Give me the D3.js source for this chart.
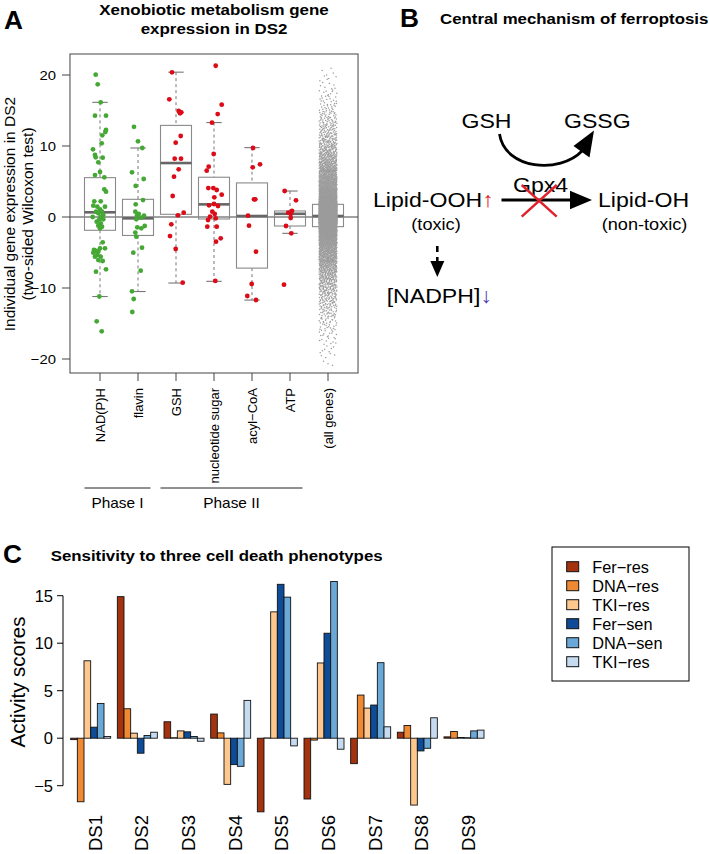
<!DOCTYPE html>
<html><head><meta charset="utf-8">
<script src="https://cdn.jsdelivr.net/npm/d3@7"></script>
<style>body{margin:0;background:#fff} svg{display:block} text{font-family:"Liberation Sans",Arial,Helvetica,sans-serif;fill:#000}</style>
</head><body><svg id="fig" width="709" height="854"></svg>
<script>
// ---------------- DATA ----------------
// Panel A
const catLabels = ["NAD(P)H","flavin","GSH","nucleotide sugar","acyl\u2212CoA","ATP","(all genes)"];
const catColors = ["#45a834","#45a834","#db0b17","#db0b17","#db0b17","#db0b17","#9a9a9a"];
// box stats: [lower whisker, Q1, median, Q3, upper whisker]
const boxStats = [
  [-11.2,-1.87,0.66,5.54,16.15],
  [-10.5,-2.6,-0.19,2.49,9.72],
  [-9.3,0.38,7.6,12.9,20.4],
  [-9.06,-0.28,1.78,5.6,13.3],
  [-11.7,-7.2,0.14,4.8,9.77],
  [-2.3,-1.27,0.45,0.85,3.66],
  [-6.2,-1.36,0.14,1.78,6.5]
];
// individual genes: values and horizontal jitter (in 1/38 of category spacing)
const nadphVals = [20.04,18.69,16.15,14.27,14.27,12.25,11.97,11.5,10.38,9.53,8.73,8.4,8.36,7.7,6.34,5.9,5.59,3.9,3.57,
  2.21,2.21,1.6,1.46,1.46,1.08,0.75,0.75,0.52,0.28,0.05,0.0,-0.33,-0.33,-0.66,-0.89,-1.36,-1.6,-1.22,
  -3.57,-4.65,-4.79,-4.88,-5.02,-4.41,-5.35,-4.41,-5.59,-5.59,-6.06,-6.2,-7.37,-7.7,-11.2,-14.7,-16.1];
const nadphJit = [-4.3,-2.3,0.7,-5,6,6,5.3,2.3,1.7,-7,-5,-4.3,2.7,-1.7,0,-5,4.3,4.3,6,
  -5.7,0.7,-6.7,-2.7,5,0,-4,2,-1.7,3.3,0.7,-7.3,-0.7,3.3,-3.3,0.7,2,0,-1.7,
  2.7,-6,-4,-1.7,-6.7,0,-2.7,5,-5,0.7,-1.7,2.7,6,-4,-0.7,-3.3,1.7];
const flavinVals = [12.7,10.66,9.72,6.29,5.35,4.37,2.39,1.78,0.75,0.42,0.19,0.19,-0.09,-0.33,-1.46,-1.6,-1.27,-2.2,-2.77,-4.32,-5.02,-7.56,-10.47,-11.55,-13.38];
const flavinJit = [-4,0,4.3,-6,5.7,-2.3,5,-2.3,-2.7,0.7,-1,6,3.3,-1.7,-0.7,3.3,6.7,-2.7,-1.7,4,-4.7,2.7,-6,-4.3,-5.7];
const gshVals = [20.38,16.58,14.93,14.74,14.6,11.41,10.47,8.22,8.22,6.71,5.68,2.96,0.23,0.61,-1.03,-2.68,-4.51,-9.25];
const gshJit = [-4,-6.7,2.7,5.3,4,4.7,-0.3,-1.3,5,2.7,-2,-3.3,2,7.7,-4.7,-6,-0.3,6.7];
const nucVals = [21.3,15.82,14.5,13.29,8.87,7.09,6.52,4.08,4.08,3.8,3.14,2.77,1.65,1.83,1.55,0.75,0.42,0.05,-0.19,-0.42,-1.36,-1.36,-3.0,-3.47,-9.01];
const nucJit = [1.7,7.7,3.7,-2,-0.3,-5.3,-7.3,-5.7,-0.7,2.7,7.7,0.3,-5,0,4,-1.7,0.7,-4,1.7,-6,-6.7,2.7,6.7,2,1.3];
const acylVals = [9.72,7.0,7.42,2.49,2.49,0.19,-1.22,-4.88,-9.44,-11.13,-11.69];
const acylJit = [1,0.7,8,2,3.3,-4,-3,4,-0.3,-4.7,4];
const atpVals = [3.66,2.35,0.85,0.61,0.42,-0.14,-1.27,-2.3,-9.53];
const atpJit = [-5.3,6,2,-1.7,0.7,0.7,-4,1.3,-6];
// (all genes): number of genes per 1-unit expression bin, from -21 to +21
const allBinStart = -21;
const allBinCounts = [3,5,6,9,12,16,21,27,34,42,52,63,76,92,112,136,165,205,270,500,1000,
  900,800,330,240,190,155,128,105,86,70,57,46,37,30,24,18,14,10,7,5,4];
const yTicksA = [-20,-10,0,10,20];
const phaseGroups = [{name:"Phase I", from:1, to:2},{name:"Phase II", from:3, to:6}];

// Panel C
const dsLabels = ["DS1","DS2","DS3","DS4","DS5","DS6","DS7","DS8","DS9"];
const seriesNames = ["Fer\u2212res","DNA\u2212res","TKI\u2212res","Fer\u2212sen","DNA\u2212sen","TKI\u2212res"];
const seriesColors = ["#a3320f","#f08a32","#fdc78e","#0e4c97","#6aa8d8","#c6dbef"];
const ferRes = [-0.15,14.9,1.73,2.54,-7.75,-6.4,-2.68,0.63,0.14];
const dnaRes = [-6.69,3.1,0.05,0.56,0.03,-0.2,4.54,1.34,0.7];
const tkiRes = [8.15,0.53,0.77,-4.86,13.3,7.92,3.17,-7.04,0.07];
const ferSen = [1.16,-1.58,0.67,-2.78,16.2,11.05,3.49,-1.34,0.05];
const dnaSen = [3.66,0.28,0.18,-2.96,14.85,16.5,7.95,-1.06,0.77];
const tkiSen = [0.18,0.63,-0.32,3.98,-0.81,-1.16,1.2,2.15,0.85];
const yTicksC = [-5,0,5,10,15];

// ---------------- DRAW ----------------
const svg = d3.select("#fig");
const SX = 1.1; // horizontal stretch of the original figure's lettering
function txt(g, x, y, s, size, o = {}) {
  const sx = o.sx === undefined ? SX : o.sx;
  let tr = `translate(${x},${y})`;
  if (o.rot) tr += ` rotate(${o.rot})`;
  if (sx !== 1) tr += ` scale(${sx},1)`;
  const t = g.append("text").attr("transform", tr).attr("font-size", size)
    .attr("text-anchor", o.anchor || "start").text(s);
  if (o.bold) t.attr("font-weight", "bold");
  if (o.fill) t.style("fill", o.fill);
  if (o.db) t.attr("dominant-baseline", o.db);
  return t;
}

// ===== Panel A =====
const A = svg.append("g");
const xA = d3.scaleLinear().domain([1, 7]).range([100, 328]);
const yA = d3.scaleLinear().domain([-20, 20]).range([359, 75]);
const boxL = xA(0.21), boxR = xA(7.79), boxT = 54, boxB = 373;

txt(A, 4, 29, "A", 25, {bold: true, sx: 1.05});
txt(A, (boxL + boxR) / 2, 15, "Xenobiotic metabolism gene", 15.4, {bold: true, anchor: "middle"});
txt(A, (boxL + boxR) / 2, 34, "expression in DS2", 15.4, {bold: true, anchor: "middle"});

// zero line
A.append("line").attr("x1", boxL).attr("x2", boxR).attr("y1", yA(0)).attr("y2", yA(0))
  .attr("stroke", "#444").attr("stroke-width", 1.1);

// boxes
const halfW = 15.5, capW = 7.7;
boxStats.forEach((s, i) => {
  const cx = xA(i + 1);
  const g = A.append("g");
  g.append("line").attr("x1", cx).attr("x2", cx).attr("y1", yA(s[4])).attr("y2", yA(s[3]))
    .attr("stroke", "#777").attr("stroke-dasharray", "3,3");
  g.append("line").attr("x1", cx).attr("x2", cx).attr("y1", yA(s[1])).attr("y2", yA(s[0]))
    .attr("stroke", "#777").attr("stroke-dasharray", "3,3");
  [s[0], s[4]].forEach(v => g.append("line").attr("x1", cx - capW).attr("x2", cx + capW)
    .attr("y1", yA(v)).attr("y2", yA(v)).attr("stroke", "#777").attr("stroke-width", 1.1));
  g.append("rect").attr("x", cx - halfW).attr("width", 2 * halfW).attr("y", yA(s[3]))
    .attr("height", yA(s[1]) - yA(s[3])).attr("fill", "none").attr("stroke", "#8a8a8a").attr("stroke-width", 1.1);
  g.append("line").attr("x1", cx - halfW).attr("x2", cx + halfW).attr("y1", yA(s[2])).attr("y2", yA(s[2]))
    .attr("stroke", "#666").attr("stroke-width", 2.6);
});

// all-genes cloud (deterministic low-discrepancy placement inside each read bin)
function halton(i, b) { let f = 1, r = 0; while (i > 0) { f /= b; r += f * (i % b); i = Math.floor(i / b); } return r; }
const cloud = [];
let k = 1;
allBinCounts.forEach((n, bi) => {
  for (let j = 0; j < n; j++, k++) cloud.push([allBinStart + bi + halton(k, 3), halton(k, 2) * 2 - 1]);
});
A.append("g").selectAll("circle").data(cloud).join("circle")
  .attr("cx", d => xA(7 + d[1] * 0.235)).attr("cy", d => yA(d[0])).attr("r", 0.75).attr("fill", "#9c9c9c");

// gene points
const ptsSets = [[nadphVals, nadphJit],[flavinVals, flavinJit],[gshVals, gshJit],[nucVals, nucJit],[acylVals, acylJit],[atpVals, atpJit]];
ptsSets.forEach(([vals, jit], i) => {
  A.append("g").selectAll("circle").data(vals).join("circle")
    .attr("cx", (d, j) => xA(i + 1 + jit[j] / 38)).attr("cy", d => yA(d)).attr("r", 2.4)
    .attr("fill", catColors[i]);
});

// frame
A.append("rect").attr("x", boxL).attr("y", boxT).attr("width", boxR - boxL).attr("height", boxB - boxT)
  .attr("fill", "none").attr("stroke", "#444").attr("stroke-width", 1);
// y axis
yTicksA.forEach(v => {
  A.append("line").attr("x1", boxL - 8).attr("x2", boxL).attr("y1", yA(v)).attr("y2", yA(v)).attr("stroke", "#444");
  txt(A, boxL - 14, yA(v) + 5, v < 0 ? "\u2212" + Math.abs(v) : String(v), 13.5, {anchor: "end"});
});
// x axis
catLabels.forEach((c, i) => {
  A.append("line").attr("x1", xA(i + 1)).attr("x2", xA(i + 1)).attr("y1", boxB).attr("y2", boxB + 8).attr("stroke", "#444");
  txt(A, xA(i + 1) + 4.7, 388, c, 13, {rot: -90, anchor: "end", sx: 1});
});
txt(A, 15, 214, "Individual gene expression in DS2", 15.5, {rot: -90, anchor: "middle", sx: 1});
txt(A, 33, 214, "(two-sided Wilcoxon test)", 15.5, {rot: -90, anchor: "middle", sx: 1});
phaseGroups.forEach(p => {
  const x1 = xA(p.from) - halfW, x2 = xA(p.to) + halfW - 3;
  A.append("line").attr("x1", x1).attr("x2", x2).attr("y1", 488).attr("y2", 488).attr("stroke", "#222");
  txt(A, (x1 + x2) / 2, 508, p.name, 14, {anchor: "middle"});
});

// ===== Panel B =====
const B = svg.append("g");
txt(B, 400, 27, "B", 25, {bold: true, sx: 1.05});
txt(B, 440, 24, "Central mechanism of ferroptosis", 15.3, {bold: true});
const fB = 21;
txt(B, 461.5, 127.7, "GSH", fB);
txt(B, 564, 127.7, "GSSG", fB);
B.append("path").attr("d", "M 499.5 134 C 505 170, 560 174, 582 151").attr("fill", "none")
  .attr("stroke", "#000").attr("stroke-width", 2.8);
B.append("path").attr("d", "M 594 130.5 L 573.5 146 L 589.5 157.5 Z").attr("fill", "#000");
const lt = txt(B, 373, 206.7, "Lipid-OOH", fB);
lt.append("tspan").style("fill", "#e0202a").text("\u2191");
txt(B, 436, 230, "(toxic)", 16.5, {anchor: "middle"});
txt(B, 513, 191.7, "Gpx4", fB);
B.append("line").attr("x1", 501.5).attr("x2", 574).attr("y1", 200).attr("y2", 200).attr("stroke", "#000").attr("stroke-width", 2.8);
B.append("path").attr("d", "M 592 200 L 570 190.7 L 570 209.3 Z").attr("fill", "#000");
B.append("line").attr("x1", 521.7).attr("y1", 185).attr("x2", 556.7).attr("y2", 216.7).attr("stroke", "#e0202a").attr("stroke-width", 2.4);
B.append("line").attr("x1", 521.7).attr("y1", 216.7).attr("x2", 556.7).attr("y2", 185).attr("stroke", "#e0202a").attr("stroke-width", 2.4);
txt(B, 598, 206.7, "Lipid-OH", fB);
txt(B, 644.5, 230, "(non-toxic)", 16.5, {anchor: "middle"});
B.append("line").attr("x1", 437.3).attr("x2", 437.3).attr("y1", 246).attr("y2", 262).attr("stroke", "#000")
  .attr("stroke-width", 2.6).attr("stroke-dasharray", "6,5");
B.append("path").attr("d", "M 437.3 277 L 430.3 261 L 444.3 261 Z").attr("fill", "#000");
const nt = txt(B, 386.7, 303.3, "[NADPH]", fB);
nt.append("tspan").style("fill", "#5540b0").text("\u2193");

// ===== Panel C =====
const C = svg.append("g");
txt(C, 3, 563, "C", 25, {bold: true, sx: 1.05});
txt(C, 50.7, 560.5, "Sensitivity to three cell death phenotypes", 15.3, {bold: true});
const yC = d3.scaleLinear().domain([-5, 15]).range([785.7, 595.7]);
const xC = d3.scaleLinear().domain([0, 63]).range([64, 484]);
const seriesVals = [ferRes, dnaRes, tkiRes, ferSen, dnaSen, tkiSen];
const bars = [];
dsLabels.forEach((ds, g) => seriesVals.forEach((arr, s) => bars.push({g, s, v: arr[g]})));
C.append("g").selectAll("rect").data(bars).join("rect")
  .attr("x", d => xC(1 + d.g * 7 + d.s)).attr("width", xC(1) - xC(0))
  .attr("y", d => yC(Math.max(0, d.v))).attr("height", d => Math.abs(yC(d.v) - yC(0)))
  .attr("fill", d => seriesColors[d.s]).attr("stroke", "#111").attr("stroke-width", 0.9);
C.append("line").attr("x1", 63).attr("x2", 63).attr("y1", yC(15)).attr("y2", yC(-5)).attr("stroke", "#000");
yTicksC.forEach(v => {
  C.append("line").attr("x1", 57).attr("x2", 63).attr("y1", yC(v)).attr("y2", yC(v)).attr("stroke", "#000");
  txt(C, 53, yC(v) + 6, v < 0 ? "\u2212" + Math.abs(v) : String(v), 16.5, {anchor: "end", sx: 1});
});
txt(C, 25, 682, "Activity scores", 20.5, {rot: -90, anchor: "middle", sx: 1});
dsLabels.forEach((ds, g) => txt(C, xC(1 + g * 7 + 3) + 11, 815, ds, 18.5, {rot: -90, anchor: "end", sx: 1}));
// legend
const L = C.append("g");
L.append("rect").attr("x", 552).attr("y", 547).attr("width", 137).attr("height", 134).attr("fill", "#fff").attr("stroke", "#000");
seriesNames.forEach((n, i) => {
  const cy = 566.7 + i * 19;
  L.append("rect").attr("x", 566.7).attr("y", cy - 5).attr("width", 12).attr("height", 10)
    .attr("fill", seriesColors[i]).attr("stroke", "#111");
  txt(L, 592.3, cy + 6, n, 16.3, {sx: 1});
});
</script></body></html>
